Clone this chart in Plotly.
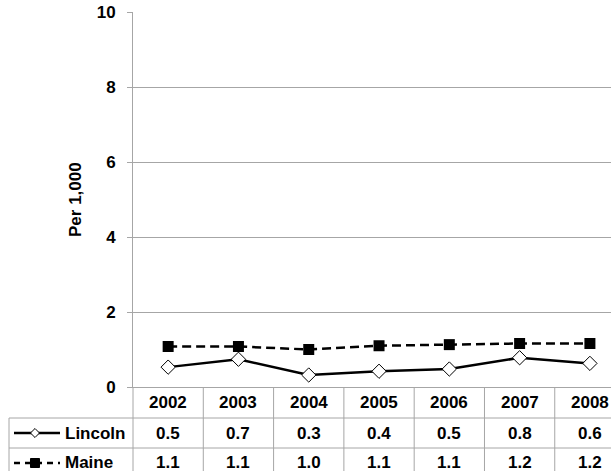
import plotly.graph_objects as go

# ── data ────────────────────────────────────────────────────────────────
years = ["2002", "2003", "2004", "2005", "2006", "2007", "2008"]
lincoln = [0.53, 0.74, 0.32, 0.42, 0.48, 0.78, 0.63]
maine = [1.08, 1.08, 1.00, 1.10, 1.13, 1.16, 1.16]
series_names = ["Lincoln", "Maine"]
y_ticks = [0, 2, 4, 6, 8, 10]

# ── geometry (pixels of the 611x471 page) ─────────────────────────────────
W, H = 611, 471
M_L, M_R, M_T, M_B = 133, 0, 12, 84
PLOT_W = W - M_L - M_R
PLOT_H = H - M_T - M_B
X0_PX = M_T + PLOT_H  # y pixel of the x axis line

FONT = "Liberation Sans, Arial, sans-serif"
GRID = "#a6a6a6"


def px_x(px):
    return (px - M_L) / PLOT_W


def px_y(py):
    return (X0_PX - py) / PLOT_H


x = list(range(len(years)))
x_range = [-0.5, 6.3]

fig = go.Figure()

fig.add_trace(go.Scatter(
    x=x, y=maine, mode="lines+markers", name="Maine",
    line=dict(color="black", width=2.5, dash="9px,5px"),
    marker=dict(symbol="square", size=11, color="black"),
    showlegend=False,
))
fig.add_trace(go.Scatter(
    x=x, y=lincoln, mode="lines+markers", name="Lincoln",
    line=dict(color="black", width=2.5),
    marker=dict(symbol="diamond", size=11, color="white",
                line=dict(color="black", width=1)),
    showlegend=False,
))

# ── data table under the plot ─────────────────────────────────────────────
row_h = 30
row_top = [X0_PX, X0_PX + 31, X0_PX + 61]
row_mid = [r + row_h / 2 for r in row_top]
table_left = 9

shapes = []
# horizontal rules between rows
for py in row_top[1:]:
    shapes.append(dict(type="line", xref="paper", yref="paper",
                       x0=px_x(table_left), x1=1, y0=px_y(py), y1=px_y(py),
                       line=dict(color=GRID, width=1)))
# left edge of the legend column and the axis line carried down
for px in (table_left, M_L):
    top = row_top[1] if px == table_left else X0_PX
    shapes.append(dict(type="line", xref="paper", yref="paper",
                       x0=px_x(px), x1=px_x(px), y0=px_y(top), y1=px_y(H + 10),
                       line=dict(color=GRID, width=1)))
# column boundaries
for i in range(1, len(years)):
    shapes.append(dict(type="line", xref="x", yref="paper",
                       x0=i - 0.5, x1=i - 0.5, y0=0, y1=px_y(H + 10),
                       line=dict(color=GRID, width=1)))

# legend keys in the first column
key_x0, key_x1, key_cx = 14, 60, 35
shapes.append(dict(type="line", xref="paper", yref="paper",
                   x0=px_x(key_x0), x1=px_x(key_x1),
                   y0=px_y(row_mid[1]), y1=px_y(row_mid[1]),
                   line=dict(color="black", width=2.5)))
shapes.append(dict(type="line", xref="paper", yref="paper",
                   x0=px_x(key_x0), x1=px_x(key_x1),
                   y0=px_y(row_mid[2]), y1=px_y(row_mid[2]),
                   line=dict(color="black", width=2.5, dash="6px,5px")))


def key_path(points):
    return "M " + " L ".join(f"{px_x(a):.5f},{px_y(b):.5f}" for a, b in points) + " Z"


cy = row_mid[1]
shapes.append(dict(type="path", xref="paper", yref="paper",
                   path=key_path([(key_cx - 4.5, cy), (key_cx, cy - 4.5),
                                  (key_cx + 4.5, cy), (key_cx, cy + 4.5)]),
                   fillcolor="white", line=dict(color="black", width=1)))
cy = row_mid[2]
shapes.append(dict(type="path", xref="paper", yref="paper",
                   path=key_path([(key_cx - 4.5, cy - 4.5), (key_cx + 4.5, cy - 4.5),
                                  (key_cx + 4.5, cy + 4.5), (key_cx - 4.5, cy + 4.5)]),
                   fillcolor="black", line=dict(color="black", width=1)))

cell_font = dict(family=FONT, size=17, color="black")
annotations = []


def cell(xv, py, text, xref="x", xanchor="center"):
    annotations.append(dict(x=xv, y=px_y(py), xref=xref, yref="paper",
                            xanchor=xanchor, yanchor="middle",
                            text=f"<b>{text}</b>", showarrow=False, font=cell_font))


for i, yr in enumerate(years):
    cell(i, row_mid[0], yr)
    cell(i, row_mid[1], f"{lincoln[i]:.1f}")
    cell(i, row_mid[2], f"{maine[i]:.1f}")
for name, py in zip(series_names, row_mid[1:]):
    cell(px_x(63), py, name, xref="paper", xanchor="left")

# y axis title
annotations.append(dict(x=px_x(75), y=px_y(200), xref="paper", yref="paper",
                        xanchor="center", yanchor="middle",
                        text="<b>Per 1,000</b>", textangle=-90, showarrow=False,
                        font=dict(family=FONT, size=17, color="black")))

fig.update_layout(
    width=W, height=H,
    margin=dict(l=M_L, r=M_R, t=M_T, b=M_B, pad=0),
    paper_bgcolor="white", plot_bgcolor="white",
    font=dict(family=FONT, color="black"),
    shapes=shapes, annotations=annotations,
    xaxis=dict(range=x_range, showticklabels=False, showgrid=False,
               zeroline=False, showline=True, linecolor=GRID, linewidth=1,
               ticks="", fixedrange=True),
    yaxis=dict(range=[0, 10], tickvals=y_ticks, showgrid=True, gridcolor=GRID,
               gridwidth=1, zeroline=False, showline=True, linecolor=GRID,
               linewidth=1, ticks="outside", ticklen=5, tickcolor=GRID,
               ticklabelstandoff=8,
               tickfont=dict(family=FONT, size=17, color="black", weight="bold")),
)

fig.write_html("out.html", config={"displayModeBar": False},
               post_script="document.body.style.margin = '0';")
